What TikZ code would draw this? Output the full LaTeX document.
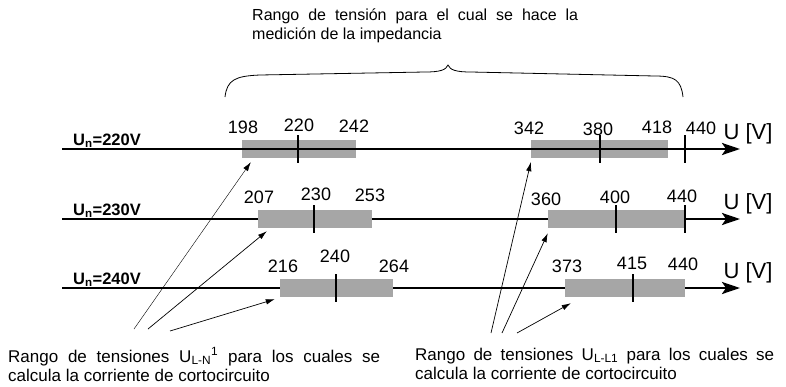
\documentclass[tikz,border=0pt]{standalone}
\usepackage{fontspec}
\setmainfont{Liberation Sans}
\usetikzlibrary{arrows.meta,calc}
\definecolor{bandgray}{HTML}{A6A6A6}

\begin{document}
\begin{tikzpicture}[x=1pt,y=-1pt,
   axis/.style={line width=2.6pt,-{Stealth[length=18pt,width=12pt,inset=4pt]}},
   band/.style={fill=bandgray,inner sep=0pt,minimum height=18pt},
   tickline/.style={line width=2.4pt},
   val/.style={font=\fontsize{18}{20}\selectfont,inner sep=0pt},
   unit/.style={font=\fontsize{22}{24}\selectfont,inner sep=0pt},
   uname/.style={font=\bfseries\fontsize{16.5}{18}\selectfont,inner sep=0pt,anchor=base west},
   pointer/.style={line width=0.7pt,-{Latex[length=9pt,width=5.5pt]}},
   note/.style={font=\fontsize{17}{19.5}\selectfont,inner sep=0pt,anchor=north west,align=justify}]

   \useasboundingbox (0,0) rectangle (786,386);

   % brace and top text
   \node[note,text width=326pt,font=\fontsize{16}{18.3}\selectfont] (toptext) at (252,9)
      {Rango de tensión para el cual se hace la\linebreak medición de la impedancia};
   \draw[line width=0.8pt] (225,97) .. controls (227,80) and (235,76) .. (260,75) -- (425,72)
      .. controls (440,72) and (446,70) .. (448,65)
      .. controls (450,70) and (456,72) .. (471,72) -- (655,76)
      .. controls (675,76) and (681,80) .. (683,97);

   % Un = 220 V
   \coordinate (a1) at (62,149);
   \coordinate (e1) at (740,149);
   \node[band,minimum width=114pt] (ln220) at (299,149) {};
   \node[band,minimum width=137pt] (ll220) at (599.5,149) {};
   \draw[axis] (a1) -- (e1);
   \draw[tickline] (298,135) -- (298,163);
   \draw[tickline] (600,135) -- (600,163);
   \draw[tickline] (685,135) -- (685,163);
   \node[uname] (un220) at (73,145) {U\textsubscript{n}=220V};
   \node[val] (v198) at (243,127) {198};
   \node[val] (v220) at (299,125) {220};
   \node[val] (v242) at (354,126) {242};
   \node[val] (v342) at (529,128) {342};
   \node[val] (v380) at (598,129) {380};
   \node[val] (v418) at (657,127) {418};
   \node[val] (v440a) at (701,128) {440};
   \node[unit] (u1) at (748,134) {U [V]};

   % Un = 230 V
   \coordinate (a2) at (62,219);
   \coordinate (e2) at (740,219);
   \draw[axis] (a2) -- (e2);
   \node[band,minimum width=114pt] (ln230) at (315,219) {};
   \node[band,minimum width=137pt] (ll230) at (616.5,219) {};
   \draw[tickline] (314,205) -- (314,233);
   \draw[tickline] (616,205) -- (616,233);
   \draw[tickline] (685,205) -- (685,233);
   \node[uname] (un230) at (73,215) {U\textsubscript{n}=230V};
   \node[val] (v207) at (259,197) {207};
   \node[val] (v230) at (316,194) {230};
   \node[val] (v253) at (370,195) {253};
   \node[val] (v360) at (546,199) {360};
   \node[val] (v400) at (615,197.5) {400};
   \node[val] (v440b) at (682,196.5) {440};
   \node[unit] (u2) at (748,204) {U [V]};

   % Un = 240 V
   \coordinate (a3) at (62,288);
   \coordinate (e3) at (740,288);
   \draw[axis] (a3) -- (e3);
   \node[band,minimum width=113pt] (ln240) at (336.5,288) {};
   \node[band,minimum width=120pt] (ll240) at (625,288) {};
   \draw[tickline] (336,274) -- (336,302);
   \draw[tickline] (633,274) -- (633,302);
   \node[uname] (un240) at (73,284) {U\textsubscript{n}=240V};
   \node[val] (v216) at (283,266) {216};
   \node[val] (v240) at (335,256) {240};
   \node[val] (v264) at (394,266) {264};
   \node[val] (v373) at (567,266) {373};
   \node[val] (v415) at (632,263.5) {415};
   \node[val] (v440c) at (683,264) {440};
   \node[unit] (u3) at (748,273) {U [V]};

   % pointers to the ranges
   \coordinate (p1) at (134,329);
   \coordinate (p2) at (148,329);
   \coordinate (p3) at (170,331);
   \coordinate (q1) at (491,333);
   \coordinate (q2) at (502,333);
   \coordinate (q3) at (517,333);
   \draw[pointer,line width=0.4pt] (p1) -- ($(ln220.south west)+(9,4)$);
   \draw[pointer] (p2) -- ($(ln230.south west)+(9,3)$);
   \draw[pointer] (p3) -- ($(ln240.south west)+(-5,2)$);
   \draw[pointer] (q1) -- ($(ll220.south west)+(0,4)$);
   \draw[pointer] (q2) -- ($(ll230.south west)+(0,5)$);
   \draw[pointer] (q3) -- ($(ll240.south west)+(6,6)$);

   % bottom texts
   \node[note,text width=372pt] (lntext) at (8,347.5)
      {Rango de tensiones U\textsubscript{L-N}\textsuperscript{1} para los cuales se\linebreak calcula la corriente de cortocircuito};
   \node[note,text width=359pt] (lltext) at (415,347.5)
      {Rango de tensiones U\textsubscript{L-L1} para los cuales se\linebreak calcula la corriente de cortocircuito};
\end{tikzpicture}
\end{document}
